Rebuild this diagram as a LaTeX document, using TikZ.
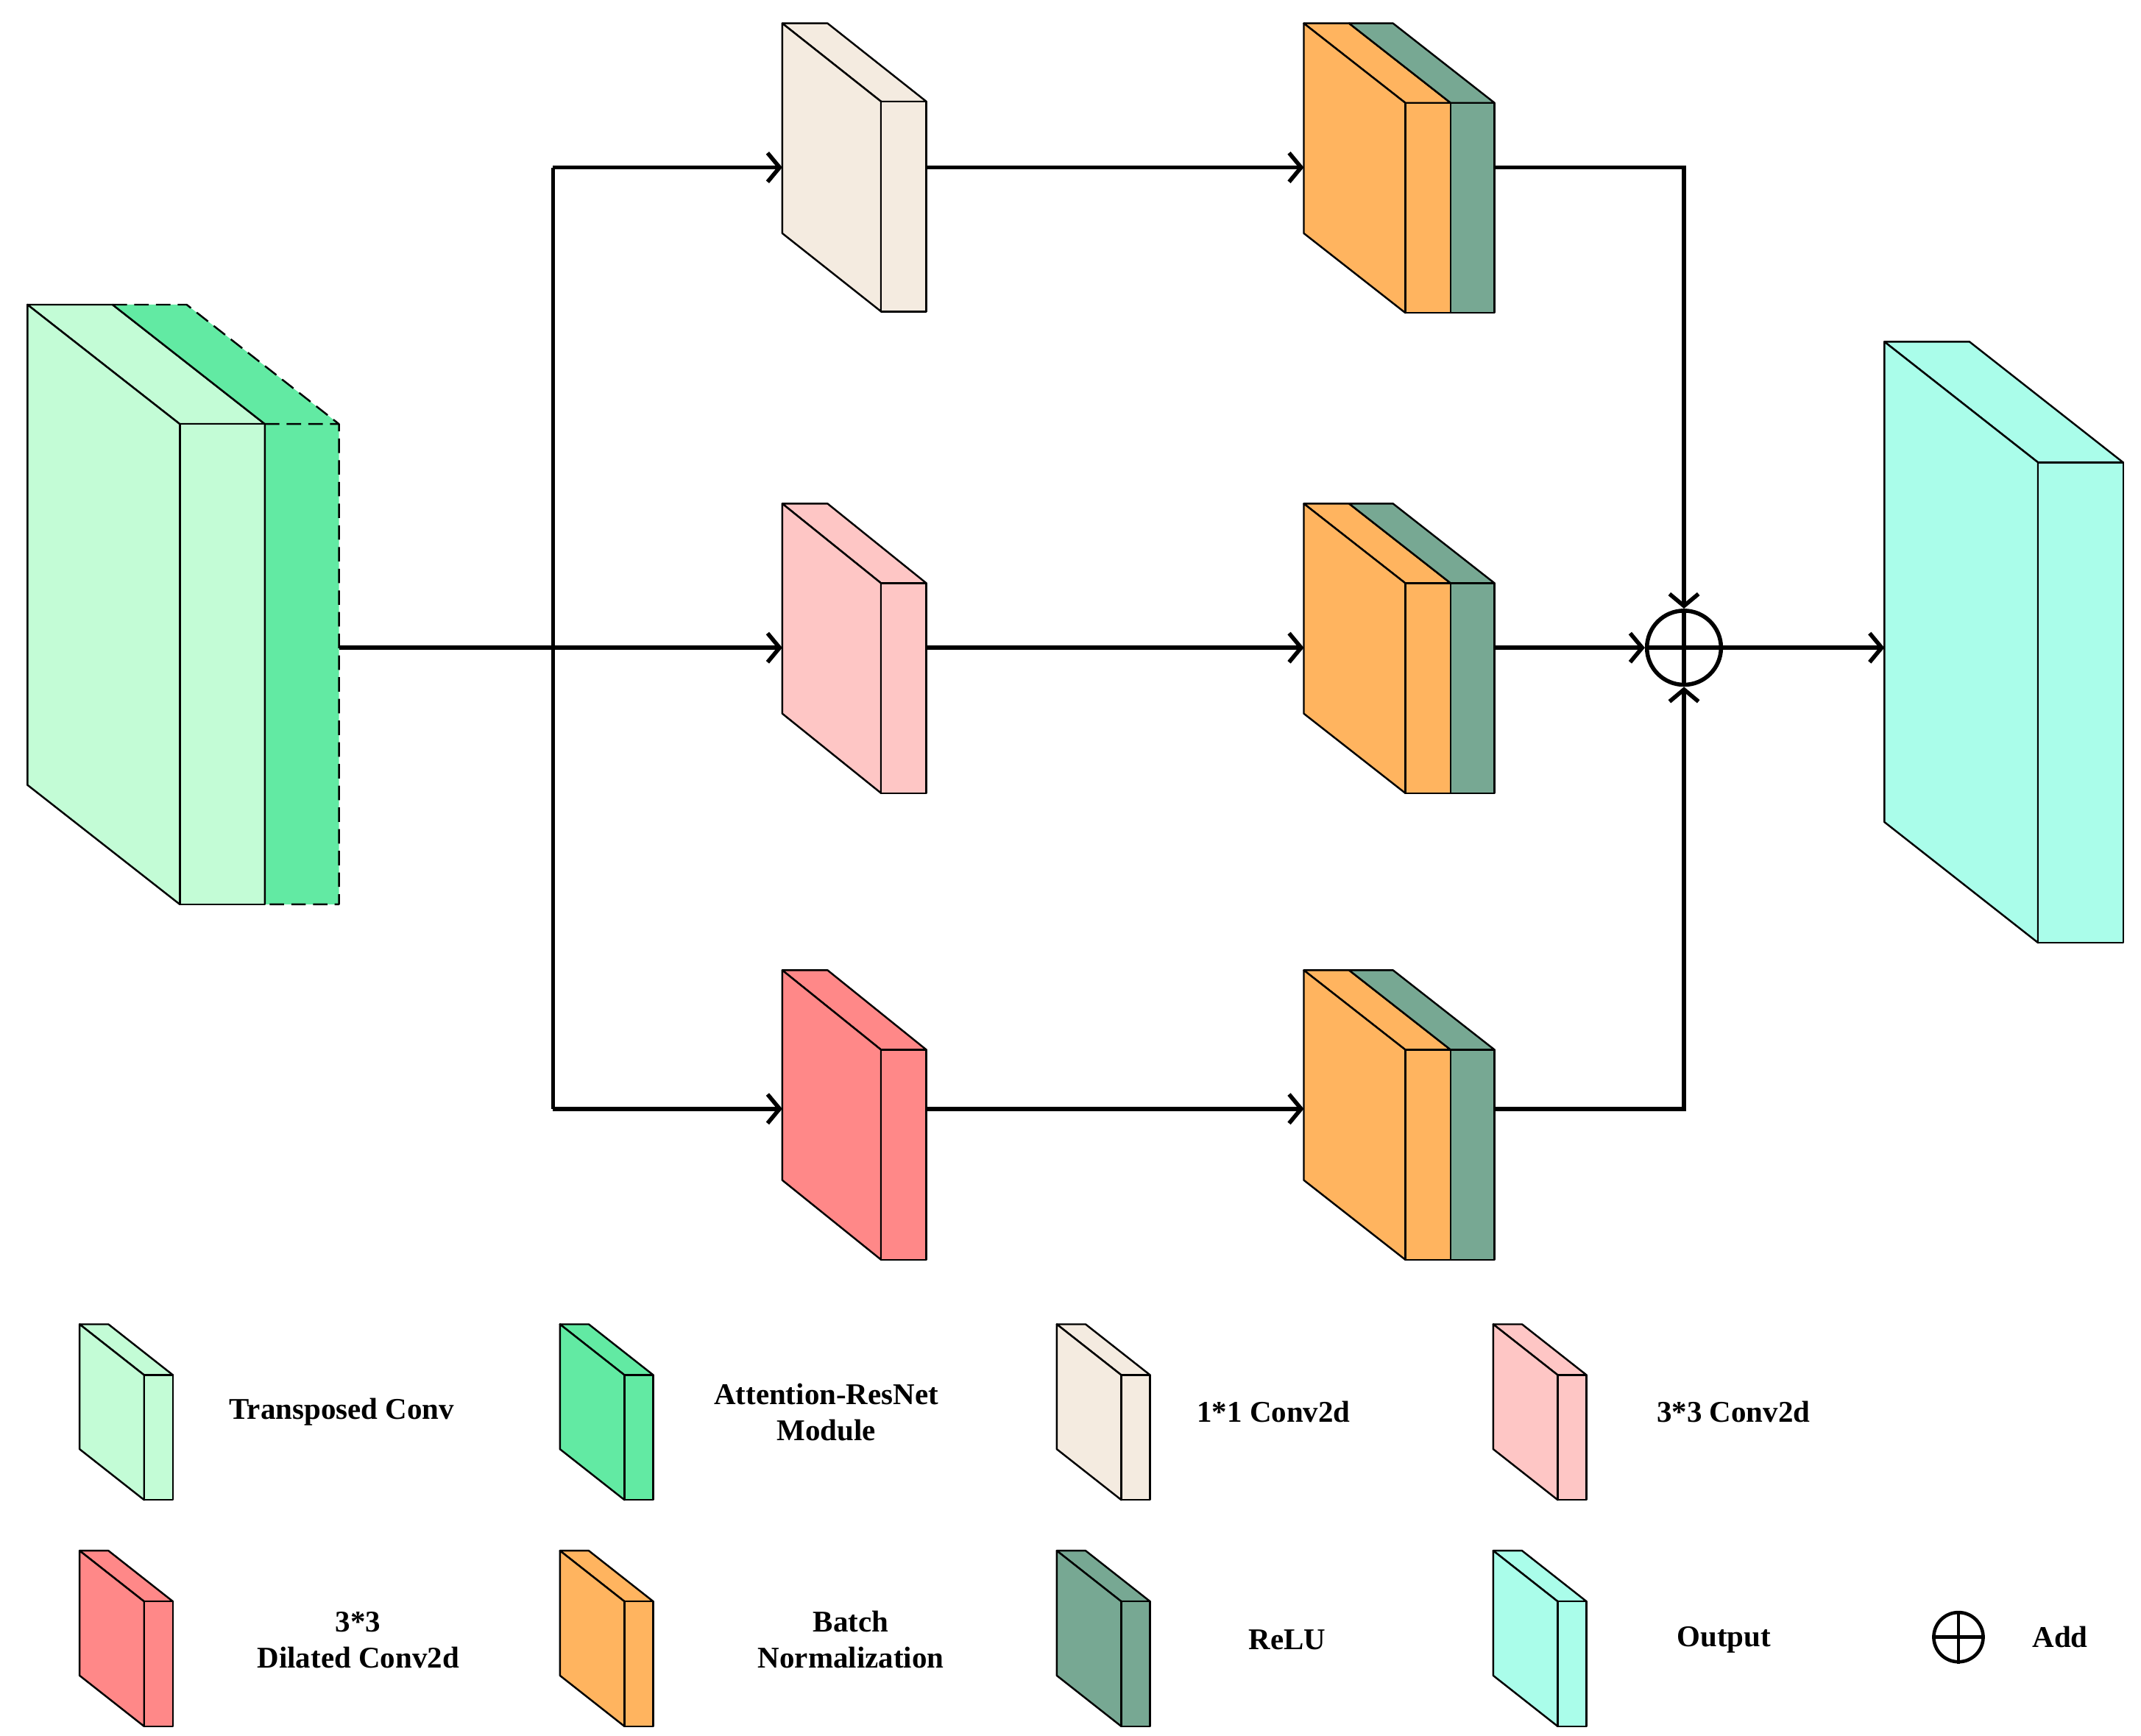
\documentclass[tikz,border=0pt]{standalone}
\usepackage{fontspec}
\setmainfont{Liberation Serif}
\usetikzlibrary{arrows.meta,positioning}

\definecolor{cTrans}{HTML}{C3FCD6}
\definecolor{cAtt}{HTML}{62EAA3}
\definecolor{cOne}{HTML}{F4EBE0}
\definecolor{cThree}{HTML}{FEC6C5}
\definecolor{cDil}{HTML}{FF8888}
\definecolor{cBN}{HTML}{FFB45F}
\definecolor{cRelu}{HTML}{77A893}
\definecolor{cOut}{HTML}{AAFDEA}

\tikzset{
	edge/.style={line width=0.75pt,line join=round},
	line/.style={line width=1.7pt},
	arr/.style={line,-{Straight Barb[length=5pt,width=12pt,line width=1.7pt]}},
	lab/.style={font=\fontsize{12.5}{15}\selectfont\bfseries,align=center}
}

% x, top, width, height, dx, dy, colour
\newcommand{\slab}[7]{%
	\filldraw[edge,fill=#7] (#1,#2) -- ++(#3,0) -- ++(#5,#6) -- ++(-#3,0) -- cycle;
	\filldraw[edge,fill=#7] (#1,#2) -- ++(#5,#6) -- ++(0,#4) -- ++(-#5,-#6) -- cycle;
	\filldraw[edge,fill=#7] (#1+#5,#2+#6) rectangle ++(#3,#4);}
\newcommand{\layer}[7]{%
	\filldraw[edge,fill=#7] (#1,#2) -- ++(#3,0) -- ++(#5,#6) -- ++(-#3,0) -- cycle;
	\filldraw[edge,fill=#7] (#1+#5,#2+#6) rectangle ++(#3,#4);}

\begin{document}
\begin{tikzpicture}[x=0.02cm,y=-0.02cm]

\useasboundingbox (0,0) rectangle (1560,1265);

% input block
\slab{20}{222}{62}{350}{111}{87}{cTrans}
\fill[cAtt] (82,222) -- (136,222) -- (247,309) -- (247,659) -- (193,659) -- (193,309) -- cycle;
\draw[edge] (82,222) -- (193,309) -- (193,659);
\draw[edge,dashed,dash pattern=on 6pt off 3pt] (82,222) -- (136,222) -- (247,309) -- (247,659) -- (193,659)
	(193,309) -- (247,309);

% branches
\slab{570}{17}{33}{153}{72}{57}{cOne}
\slab{570}{367}{33}{153}{72}{58}{cThree}
\slab{570}{707}{33}{153}{72}{58}{cDil}

\foreach \t in {17,367,707}{
	\slab{950}{\t}{33}{153}{74}{58}{cBN}
	\layer{983}{\t}{32}{153}{74}{58}{cRelu}
}

% output block
\slab{1373}{249}{62}{350}{112}{88}{cOut}

\coordinate (in) at (247,472);
\coordinate (split) at (403,472);
\coordinate (s1) at (403,122);
\coordinate (s3) at (403,808);
\coordinate (one) at (570,122);
\coordinate (three) at (570,472);
\coordinate (dil) at (570,808);
\coordinate (oneR) at (675,122);
\coordinate (threeR) at (675,472);
\coordinate (dilR) at (675,808);
\coordinate (bn1) at (950,122);
\coordinate (bn2) at (950,472);
\coordinate (bn3) at (950,808);
\coordinate (re1) at (1089,122);
\coordinate (re2) at (1089,472);
\coordinate (re3) at (1089,808);
\coordinate (j1) at (1227,122);
\coordinate (j3) at (1227,808);
\coordinate (out) at (1373,472);

\node[circle,draw,line width=1.7pt,minimum size=1.08cm,inner sep=0pt] (add) at (1227,472) {};
\draw[line] (add.north) -- (add.south) (add.west) -- (add.east);

\draw[line] (in) -- (split);
\draw[arr] (s1) -- (s3) (s1) -- (one);
\draw[arr] (split) -- (three);
\draw[arr] (s3) -- (dil);
\draw[arr] (oneR) -- (bn1);
\draw[arr] (threeR) -- (bn2);
\draw[arr] (dilR) -- (bn3);
\draw[arr] (re1) -- (j1) -- (add.north);
\draw[arr] (re2) -- (add.west);
\draw[arr] (re3) -- (j3) -- (add.south);
\draw[arr] (add.east) -- (out);

% legend
\slab{58}{965}{21}{91}{47}{37}{cTrans}
\slab{408}{965}{21}{91}{47}{37}{cAtt}
\slab{770}{965}{21}{91}{47}{37}{cOne}
\slab{1088}{965}{21}{91}{47}{37}{cThree}
\slab{58}{1130}{21}{91}{47}{37}{cDil}
\slab{408}{1130}{21}{91}{47}{37}{cBN}
\slab{770}{1130}{21}{91}{47}{37}{cRelu}
\slab{1088}{1130}{21}{91}{47}{37}{cOut}

\node[lab] (lTrans) at (249,1029) {Transposed Conv};
\node[lab] (lAtt) at (602,1029) {Attention-ResNet\\Module};
\node[lab] (lOne) at (928,1029) {1*1 Conv2d};
\node[lab] (lThree) at (1263,1029) {3*3 Conv2d};
\node[lab] (lDil) at (261,1195) {3*3\\Dilated Conv2d};
\node[lab] (lBN) at (620,1195) {Batch\\Normalization};
\node[lab] (lRelu) at (938,1195) {ReLU};
\node[lab] (lOut) at (1256,1195) {Output};

\node[circle,draw,line width=1.4pt,minimum size=0.72cm,inner sep=0pt] (addkey) at (1427,1193) {};
\draw[line width=1.4pt] (addkey.north) -- (addkey.south) (addkey.west) -- (addkey.east);
\node[lab] (lAdd) at (1501,1193) {Add};

\end{tikzpicture}
\end{document}
